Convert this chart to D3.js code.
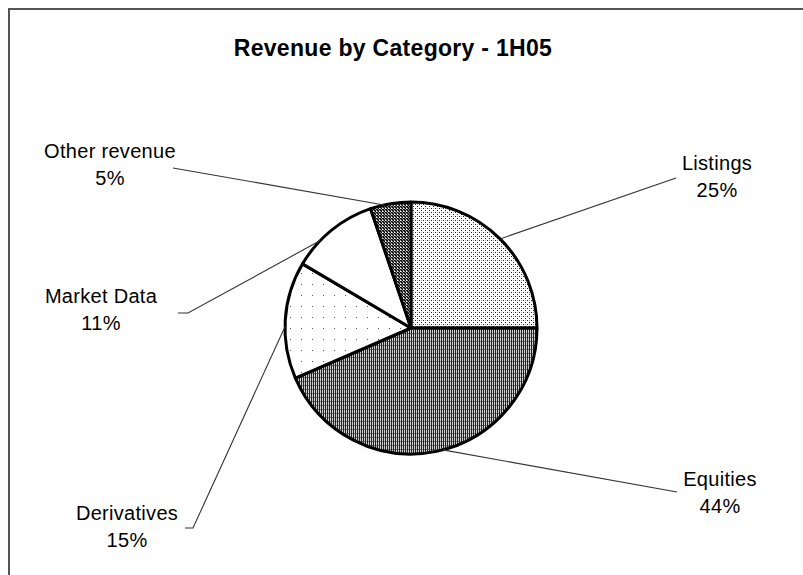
<!DOCTYPE html>
<html><head><meta charset="utf-8">
<script src="https://cdn.jsdelivr.net/npm/d3@7/dist/d3.min.js"></script>
<style>body{margin:0;background:#fff}svg{display:block}</style>
</head><body>
<svg id="c" width="803" height="575"></svg>
<script>
// ---- data ----
const categories = ["Listings", "Equities", "Derivatives", "Market Data", "Other revenue"];
const shares = [25, 43.5, 15, 11.3, 5.2]; // percent of 1H05 revenue
const title = "Revenue by Category - 1H05";

// ---- layout (positions / styles) ----
const W = 803, H = 575;
const cx = 411, cy = 328, R = 126;
const fillIds = ["pListings", "pEquities", "pDeriv", "none", "pOther"];
const labelLayout = [
  {x: 717, y: 170, anchorOff: 0,  path: [[676, 178]]},
  {x: 720, y: 486, anchorOff: -3, path: [[677, 492]]},
  {x: 127, y: 520, anchorOff: -3, path: [[193, 528], [185, 528]]},
  {x: 101, y: 303, anchorOff: -7, path: [[188, 313], [178, 313]]},
  {x: 110, y: 158, anchorOff: -3, path: [[173, 168]]}
];

const svg = d3.select("#c");
const defs = svg.append("defs");

function pat(id, w, h, bg, cells) {
  const p = defs.append("pattern").attr("id", id).attr("patternUnits", "userSpaceOnUse")
    .attr("width", w).attr("height", h);
  p.append("rect").attr("width", w).attr("height", h).attr("fill", bg);
  cells.forEach(c => p.append("rect").attr("x", c[0]).attr("y", c[1])
    .attr("width", c[2] || 1).attr("height", c[3] || 1).attr("fill", c[4] || "#000"));
}
pat("pListings", 4, 4, "#fff", [[0,0,1,1,"#222"],[2,2,1,1,"#222"],[2,0,1,1,"#aaa"]]);
pat("pEquities", 2, 4, "#d4d4d4", [[0,0,1,4,"#222"],[1,1,1,1,"#777"]]);
pat("pDeriv", 11, 11, "#fff", [[0,0,1,1,"#555"]]);
pat("pOther", 3, 3, "#999", [[0,0,1,1,"#000"],[1,1,1,1,"#000"],[2,2,1,1,"#000"],[1,0,1,1,"#fff"],[2,1,1,1,"#222"],[0,2,1,1,"#333"]]);

// frame
svg.append("rect").attr("x", 9).attr("y", 9).attr("width", 900).attr("height", 700)
  .attr("fill", "none").attr("stroke", "#555").attr("stroke-width", 2);

// title
svg.append("text").attr("x", 393).attr("y", 56).attr("text-anchor", "middle")
  .attr("font-family", "Liberation Sans, Arial, sans-serif").attr("font-weight", "bold")
  .attr("font-size", 23).attr("letter-spacing", 0.3).attr("fill", "#000").text(title);

const pie = d3.pie().sort(null).value(d => d)(shares);
const arc = d3.arc().innerRadius(0).outerRadius(R);
const g = svg.append("g").attr("transform", `translate(${cx},${cy})`);

// leader lines
const tau = Math.PI / 180;
pie.forEach((d, i) => {
  const L = labelLayout[i];
  const a = (d.startAngle + d.endAngle) / 2 + L.anchorOff * tau;
  const p0 = [cx + R * Math.sin(a), cy - R * Math.cos(a)];
  const pts = [p0].concat(L.path);
  svg.append("path").attr("d", d3.line()(pts)).attr("fill", "none")
    .attr("stroke", "#333").attr("stroke-width", 1.1);
});

g.selectAll("path.slice").data(pie).join("path").attr("class", "slice")
  .attr("d", arc)
  .attr("fill", (d, i) => fillIds[i] === "none" ? "#fff" : `url(#${fillIds[i]})`)
  .attr("stroke", "#000").attr("stroke-width", 3).attr("stroke-linejoin", "round");

// labels
const fmt = v => Math.round(v) + "%";
categories.forEach((c, i) => {
  const L = labelLayout[i];
  const t = svg.append("text").attr("text-anchor", "middle")
    .attr("font-family", "Liberation Sans, Arial, sans-serif").attr("font-size", 20)
    .attr("letter-spacing", 0.3).attr("fill", "#000");
  t.append("tspan").attr("x", L.x).attr("y", L.y).text(c);
  t.append("tspan").attr("x", L.x).attr("y", L.y + 27).text(fmt(shares[i]));
});
</script>
</body></html>
